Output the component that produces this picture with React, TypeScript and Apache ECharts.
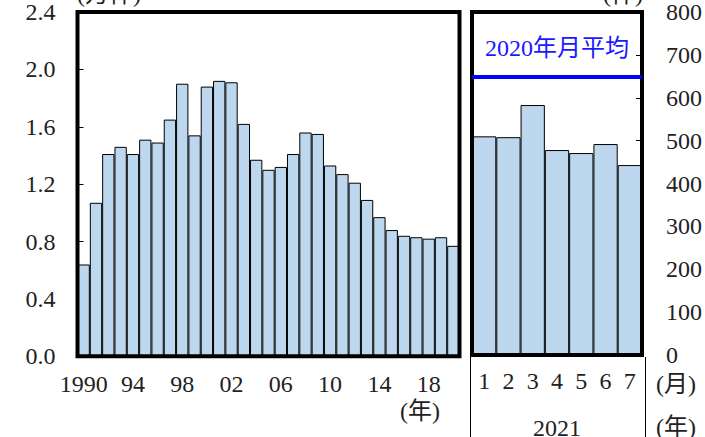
import React, { useEffect, useRef } from "react";
import * as echarts from "echarts";

const years = [
  "1990","1991","1992","1993","1994","1995","1996","1997","1998","1999",
  "2000","2001","2002","2003","2004","2005","2006","2007","2008","2009",
  "2010","2011","2012","2013","2014","2015","2016","2017","2018","2019","2020",
];
const yearValues = [
  0.64, 1.07, 1.41, 1.46, 1.41, 1.51, 1.49, 1.65, 1.9, 1.54,
  1.88, 1.92, 1.91, 1.62, 1.37, 1.3, 1.32, 1.41, 1.56, 1.55,
  1.33, 1.27, 1.21, 1.09, 0.97, 0.88, 0.84, 0.83, 0.82, 0.83, 0.77,
];
const months = ["1", "2", "3", "4", "5", "6", "7"];
const monthValues = [510, 508, 583, 478, 471, 492, 443];
const avg2020 = 648;
const avgLabel = "2020年月平均";
const leftUnit = "(万件)";
const rightUnit = "(件)";
const yearUnit = "(年)";
const monthUnit = "(月)";
const monthYear = "2021";

const FONT = "Liberation Serif, Noto Sans CJK JP, serif";
const SERIF = "Liberation Serif";
const BAR_FILL = "#bdd7ee";

export default function App() {
  const ref = useRef<HTMLDivElement>(null);
  useEffect(() => {
    if (!ref.current) return;
    const chart = echarts.init(ref.current, undefined, { renderer: "svg" });
    const txt = { fontFamily: SERIF, fontSize: 24, color: "#222" };
    chart.setOption({
      animation: false,
      backgroundColor: "#fff",
      textStyle: { fontFamily: FONT, fontSize: 24, color: "#222" },
      grid: [
        { left: 77.5, top: 10.3, width: 382, height: 346, show: true, borderColor: "#000", borderWidth: 4, z: 5, containLabel: false },
        { left: 472, top: 12, width: 171, height: 343, show: true, borderColor: "#000", borderWidth: 4, z: 5, containLabel: false },
      ],
      xAxis: [
        {
          type: "category", gridIndex: 0, data: years,
          axisLine: { show: false }, axisTick: { show: false },
          axisLabel: {
            ...txt, margin: 16,
            interval: (i: number) => i % 4 === 0,
            formatter: (v: string, i: number) => (i === 0 ? v : v.slice(2)),
          },
        },
        {
          type: "category", gridIndex: 1, data: months,
          axisLine: { show: false }, axisTick: { show: false },
          axisLabel: { ...txt, margin: 14, interval: 0 },
        },
      ],
      yAxis: [
        {
          type: "value", gridIndex: 0, min: 0, max: 2.4, interval: 0.4,
          axisLine: { show: false },
          axisTick: { show: true, inside: true, length: 6, lineStyle: { color: "#000", width: 1 } },
          splitLine: { show: false },
          axisLabel: { ...txt, margin: 22, formatter: (v: number) => v.toFixed(1) },
        },
        {
          type: "value", gridIndex: 1, position: "right", min: 0, max: 800, interval: 100,
          axisLine: { show: false },
          axisTick: { show: true, inside: true, length: 6, lineStyle: { color: "#000", width: 1 } },
          splitLine: { show: false },
          axisLabel: { ...txt, margin: 24, formatter: (v: number) => String(v) },
        },
      ],
      series: [
        {
          type: "bar", xAxisIndex: 0, yAxisIndex: 0, data: yearValues,
          barCategoryGap: "0%",
          itemStyle: { color: BAR_FILL, borderColor: "#000", borderWidth: 1 },
        },
        {
          type: "bar", xAxisIndex: 1, yAxisIndex: 1, data: monthValues,
          barCategoryGap: "0%",
          itemStyle: { color: BAR_FILL, borderColor: "#000", borderWidth: 1 },
          markLine: {
            silent: true, symbol: "none",
            lineStyle: { color: "#0000ff", width: 4, type: "solid" },
            label: {
              show: true, position: "insideMiddleTop", distance: 17,
              formatter: avgLabel, color: "#1a1aff", fontFamily: FONT, fontSize: 24,
            },
            data: [{ yAxis: avg2020 }],
          },
        },
      ],
      graphic: [
        { type: "text", x: 77, y: 6, style: { text: leftUnit, font: `24px ${FONT}`, fill: "#222", textVerticalAlign: "bottom" } },
        { type: "text", x: 643, y: 6, style: { text: rightUnit, font: `24px ${FONT}`, fill: "#222", textAlign: "right", textVerticalAlign: "bottom" } },
        { type: "text", x: 420, y: 411, style: { text: yearUnit, font: `24px ${FONT}`, fill: "#222", textAlign: "center", textVerticalAlign: "middle" } },
        { type: "text", x: 557, y: 428, style: { text: monthYear, font: `24px ${FONT}`, fill: "#222", textAlign: "center", textVerticalAlign: "middle" } },
        { type: "text", x: 676, y: 384, style: { text: monthUnit, font: `24px ${FONT}`, fill: "#222", textAlign: "center", textVerticalAlign: "middle" } },
        { type: "text", x: 676, y: 427, style: { text: yearUnit, font: `24px ${FONT}`, fill: "#222", textAlign: "center", textVerticalAlign: "middle" } },
        { type: "line", shape: { x1: 470.5, y1: 357, x2: 470.5, y2: 437 }, style: { stroke: "#000", lineWidth: 1 } },
        { type: "line", shape: { x1: 645.5, y1: 357, x2: 645.5, y2: 437 }, style: { stroke: "#000", lineWidth: 1 } },
      ],
    });
    return () => chart.dispose();
  }, []);
  return <div ref={ref} style={{ width: 705, height: 437, position: "absolute", left: 0, top: 0 }} />;
}
